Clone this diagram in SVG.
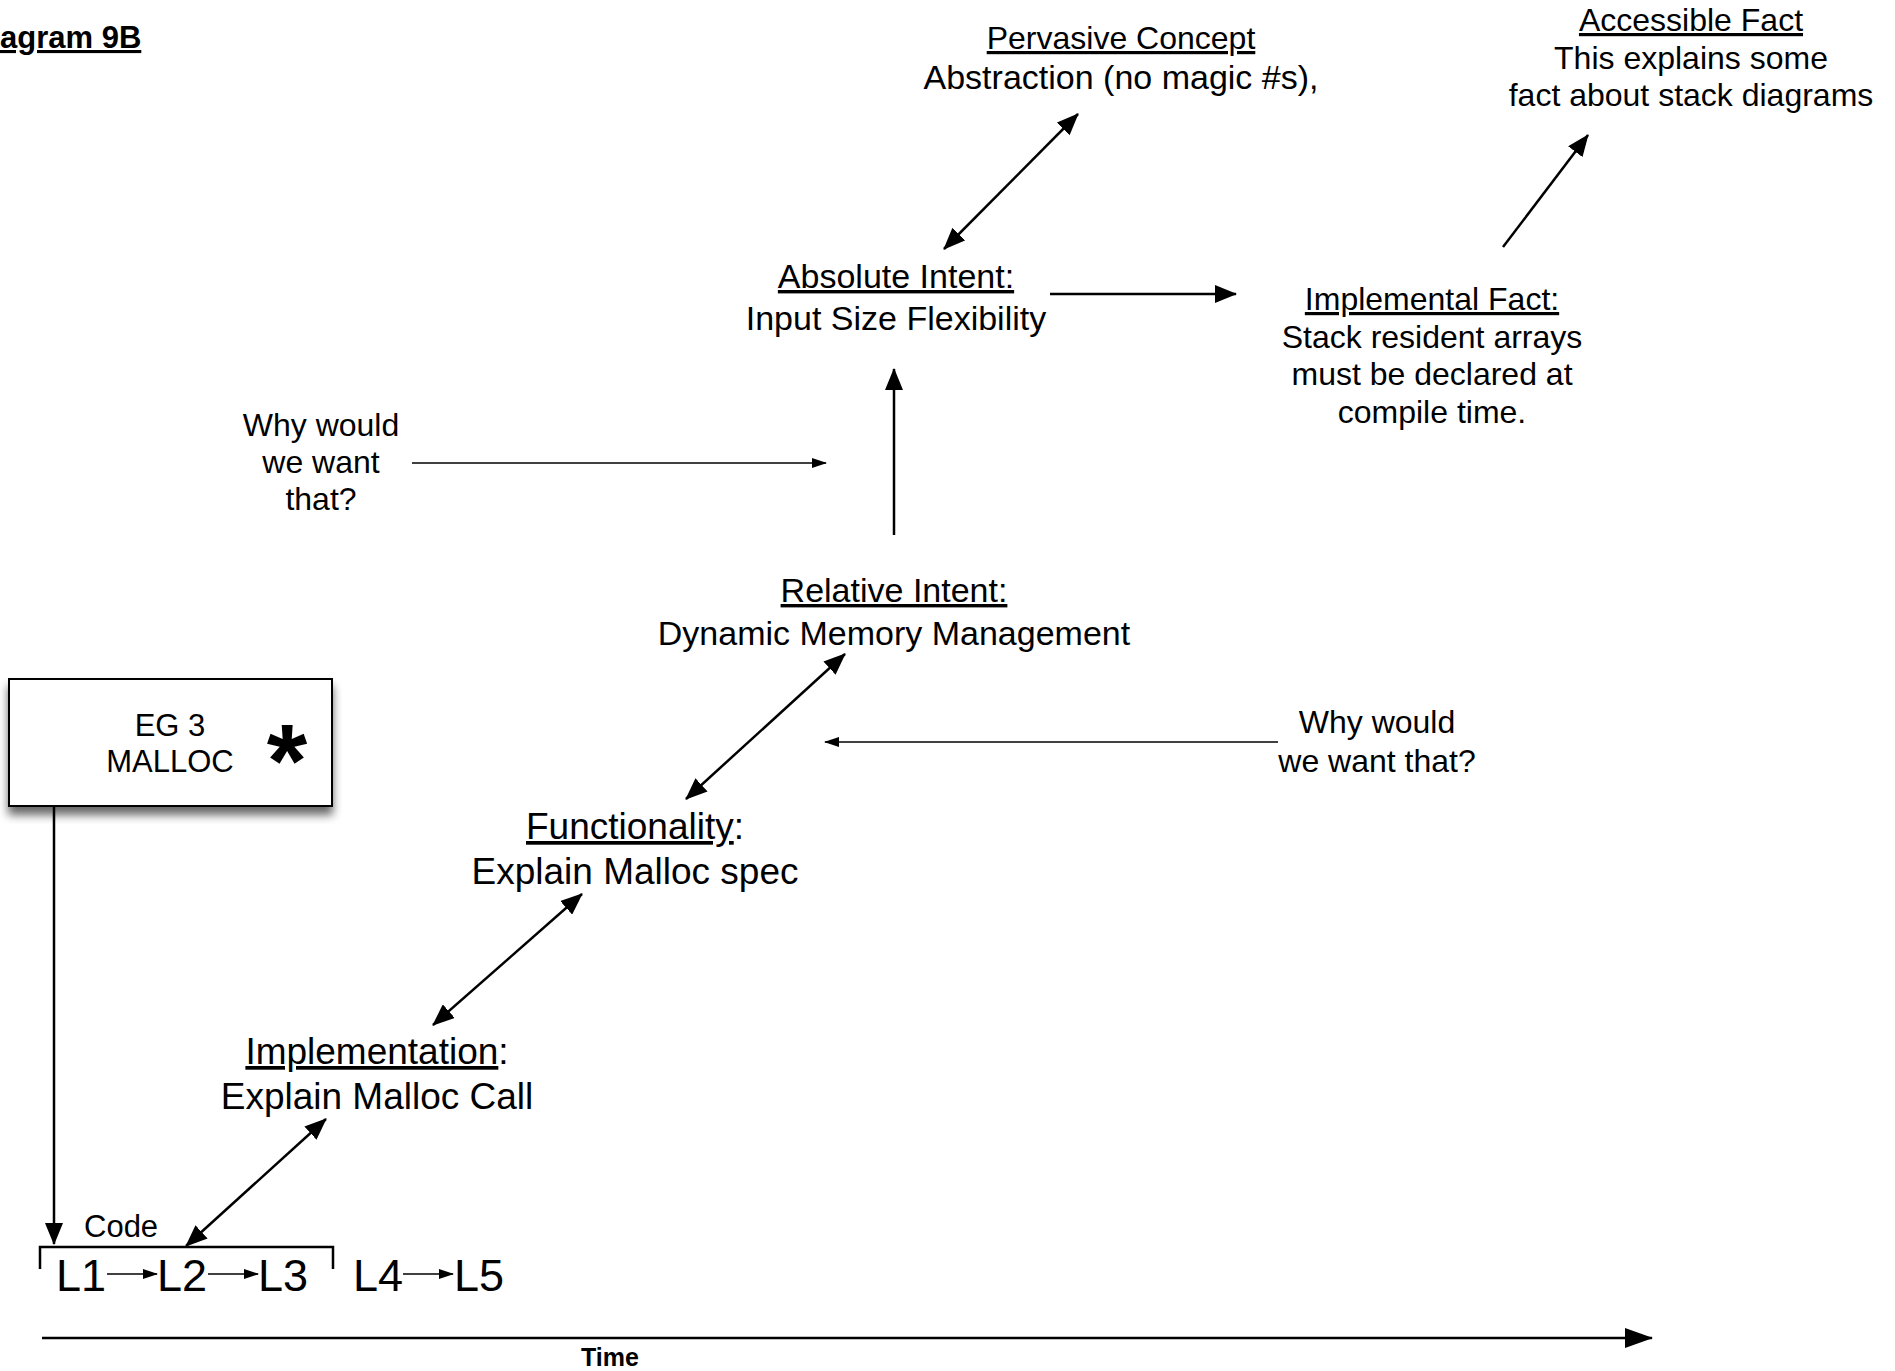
<svg xmlns="http://www.w3.org/2000/svg" width="1895" height="1371" viewBox="0 0 1895 1371">
  <style>
    text { font-family: "Liberation Sans", Arial, Helvetica, sans-serif; fill: #000; }
    .h32 { font-size: 32px; text-anchor: middle; }
    .h34 { font-size: 34px; text-anchor: middle; }
    .h37 { font-size: 37px; text-anchor: middle; }
    .u { text-decoration: underline; }
    .big { stroke: #000; stroke-width: 2.5; fill: none; marker-end: url(#head); }
    .dbl { stroke: #000; stroke-width: 2.5; fill: none; marker-start: url(#head); marker-end: url(#head); }
    .thin { stroke: #000; stroke-width: 1.4; fill: none; marker-end: url(#small); }
  </style>
  <defs>
    <marker id="head" viewBox="0 0 22 18" refX="21" refY="9" markerWidth="22" markerHeight="18" markerUnits="userSpaceOnUse" orient="auto-start-reverse">
      <path d="M0,0 L22,9 L0,18 z" fill="#000"/>
    </marker>
    <marker id="axis" viewBox="0 0 28 20" refX="27" refY="10" markerWidth="28" markerHeight="20" markerUnits="userSpaceOnUse" orient="auto">
      <path d="M0,0 L28,10 L0,20 z" fill="#000"/>
    </marker>
    <marker id="small" viewBox="0 0 15 10" refX="14" refY="5" markerWidth="15" markerHeight="10" markerUnits="userSpaceOnUse" orient="auto">
      <path d="M0,0 L15,5 L0,10 z" fill="#000"/>
    </marker>
    <filter id="shadow" x="-20%" y="-20%" width="140%" height="160%">
      <feGaussianBlur in="SourceAlpha" stdDeviation="5"/>
      <feOffset dx="0" dy="8" result="b"/>
      <feComponentTransfer><feFuncA type="linear" slope="0.6"/></feComponentTransfer>
      <feMerge><feMergeNode/><feMergeNode in="SourceGraphic"/></feMerge>
    </filter>
  </defs>

  <rect width="1895" height="1371" fill="#fff"/>

  <!-- heading in the top-left corner -->
  <text id="title" x="0" y="48" font-size="31" font-weight="bold" class="u">agram 9B</text>

  <g id="pervasive-concept">
    <text class="h32 u" x="1121" y="49">Pervasive Concept</text>
    <text class="h34" x="1121" y="89">Abstraction (no magic #s),</text>
  </g>

  <g id="accessible-fact">
    <text class="h32 u" x="1691" y="31">Accessible Fact</text>
    <text class="h32" x="1691" y="69">This explains some</text>
    <text class="h32" x="1691" y="106">fact about stack diagrams</text>
  </g>

  <g id="absolute-intent">
    <text class="h34 u" x="896" y="288">Absolute Intent:</text>
    <text class="h34" x="896" y="330">Input Size Flexibility</text>
  </g>

  <g id="implemental-fact">
    <text class="h32 u" x="1432" y="310">Implemental Fact:</text>
    <text class="h32" x="1432" y="348">Stack resident arrays</text>
    <text class="h32" x="1432" y="385">must be declared at</text>
    <text class="h32" x="1432" y="423">compile time.</text>
  </g>

  <g id="why-left">
    <text class="h32" x="321" y="436">Why would</text>
    <text class="h32" x="321" y="473">we want</text>
    <text class="h32" x="321" y="510">that?</text>
  </g>

  <g id="relative-intent">
    <text class="h34 u" x="894" y="602">Relative Intent:</text>
    <text class="h34" x="894" y="645">Dynamic Memory Management</text>
  </g>

  <g id="why-right">
    <text class="h32" x="1377" y="733">Why would</text>
    <text class="h32" x="1377" y="772">we want that?</text>
  </g>

  <g id="functionality">
    <text class="h37" x="635" y="839"><tspan class="u">Functionality</tspan>:</text>
    <text class="h37" x="635" y="884">Explain Malloc spec</text>
  </g>

  <g id="implementation">
    <text class="h37" x="377" y="1064"><tspan class="u">Implementation</tspan>:</text>
    <text class="h37" x="377" y="1109">Explain Malloc Call</text>
  </g>

  <g id="eg3-box">
    <rect x="9" y="679" width="323" height="127" fill="#fff" stroke="#000" stroke-width="2" filter="url(#shadow)"/>
    <text font-size="31" text-anchor="middle" x="170" y="736">EG 3</text>
    <text font-size="31" text-anchor="middle" x="170" y="772">MALLOC</text>
    <text font-size="104" font-weight="bold" text-anchor="middle" x="287" y="797">*</text>
  </g>

  <g id="code">
    <text font-size="31" x="84" y="1237">Code</text>
    <path d="M40,1269 V1247 H333 V1269" fill="none" stroke="#000" stroke-width="2.5"/>
    <text font-size="45" x="56" y="1291">L1</text>
    <text font-size="45" x="157" y="1291">L2</text>
    <text font-size="45" x="258" y="1291">L3</text>
    <text font-size="45" x="353" y="1291">L4</text>
    <text font-size="45" x="454" y="1291">L5</text>
  </g>

  <text id="time" x="610" y="1366" font-size="25" font-weight="bold" text-anchor="middle">Time</text>

  <g id="connectors">
    <line class="dbl" x1="944" y1="249" x2="1078" y2="114"/>
    <line class="big" x1="1050" y1="294" x2="1236" y2="294"/>
    <line class="big" x1="894" y1="535" x2="894" y2="369"/>
    <line class="thin" x1="412" y1="463" x2="826" y2="463"/>
    <line class="big" x1="1503" y1="247" x2="1588" y2="135"/>
    <line class="dbl" x1="686" y1="799" x2="845" y2="654"/>
    <line class="thin" x1="1278" y1="742" x2="825" y2="742"/>
    <line class="dbl" x1="433" y1="1025" x2="582" y2="894"/>
    <line class="dbl" x1="186" y1="1246" x2="326" y2="1119"/>
    <line class="big" x1="54" y1="806" x2="54" y2="1244"/>
    <line x1="42" y1="1338" x2="1652" y2="1338" stroke="#000" stroke-width="2.5" marker-end="url(#axis)"/>
    <line class="thin" x1="107" y1="1274" x2="157" y2="1274"/>
    <line class="thin" x1="208" y1="1274" x2="258" y2="1274"/>
    <line class="thin" x1="403" y1="1274" x2="453" y2="1274"/>
  </g>
</svg>
